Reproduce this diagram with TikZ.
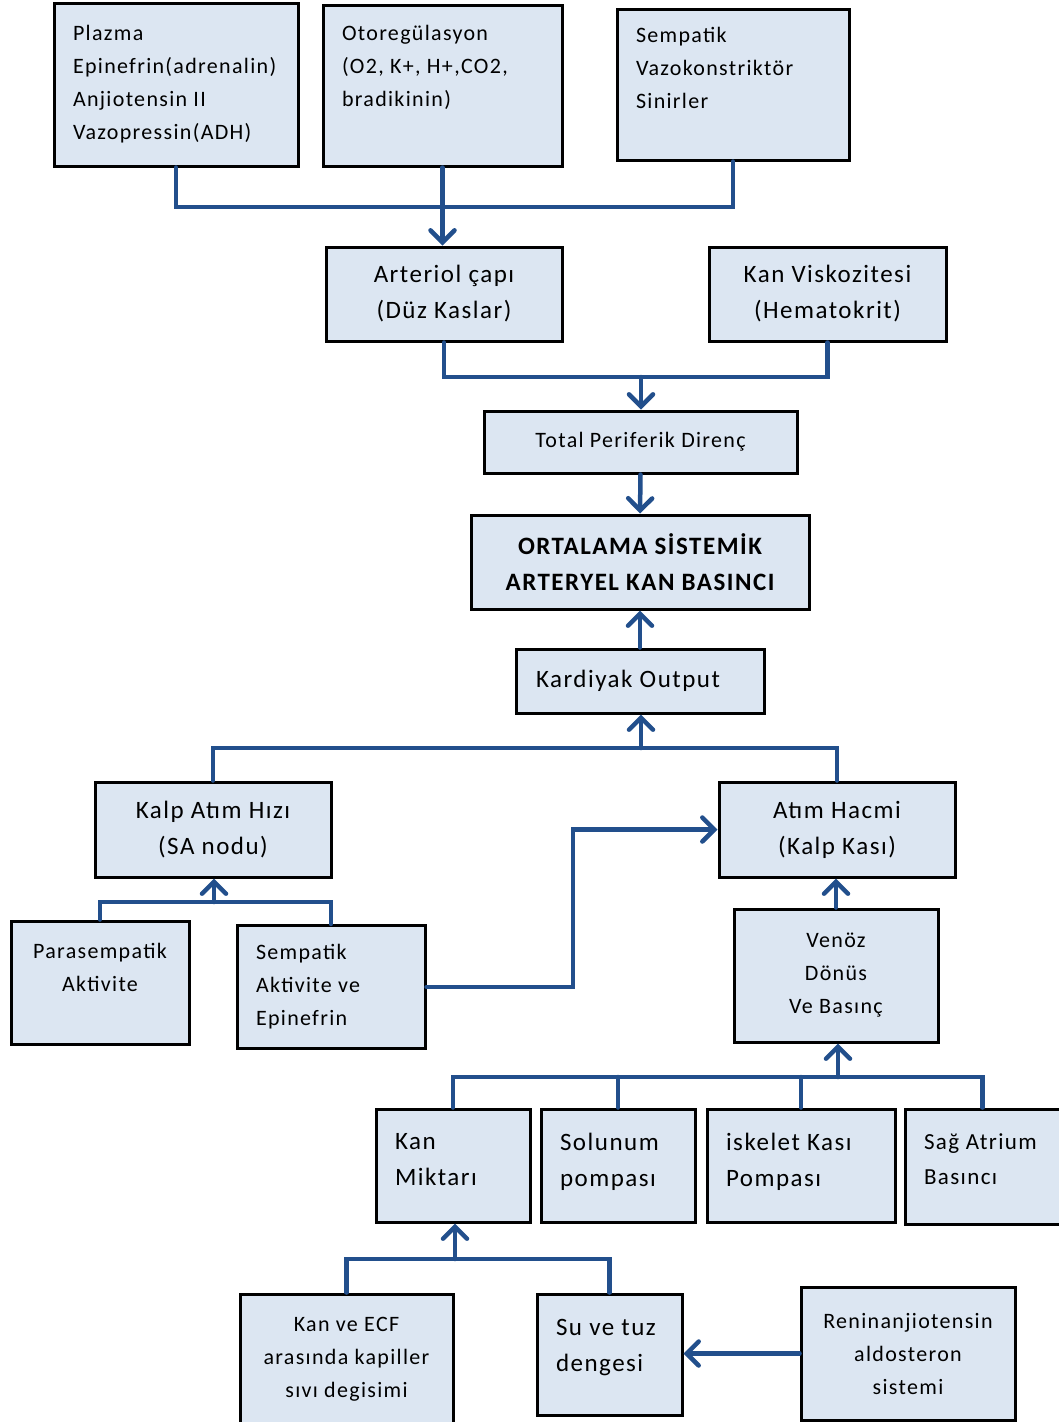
\documentclass[tikz,border=0pt]{standalone}
\usepackage{fontspec}
\setmainfont{Carlito}[LetterSpace=6]
\usetikzlibrary{arrows.meta}
\definecolor{boxblue}{RGB}{220,230,242}
\definecolor{linkblue}{RGB}{34,79,140}
\newcommand{\smalltxt}{\fontsize{22}{33}\selectfont}
\newcommand{\bigtxt}{\fontsize{25}{36}\selectfont}

\begin{document}
\begin{tikzpicture}[x=1pt, y=-1pt]
	\tikzstyle{BOX} = [draw=black, line width=3pt, fill=boxblue, inner sep=0pt]
	\tikzstyle{LEFT} = [BOX, align=flush left, inner xsep=19pt]
	\tikzstyle{MID} = [BOX, align=center]
	\tikzstyle{LINK} = [draw=linkblue, line width=4.5pt, line cap=round]
	\tikzstyle{ARROW} = [LINK, -{Straight Barb[length=12pt, width=24pt, line cap=round]}]
	\useasboundingbox (0,0) rectangle (1059,1422);

	% top row
	\node[LEFT, text width=206pt, minimum height=163pt, font=\smalltxt] (PLZ) at (176,84.5) {Plazma\\ Epinefrin(adrenalin)\\ Anjiotensin II\\ Vazopressin(ADH)};
	\node[LEFT, text width=201pt, minimum height=161pt, font=\smalltxt] (OTO) at (442.5,85.5) {Otoregülasyon\\ (O2, K+, H+,CO2,\\ bradikinin)\\[6pt] ~};
	\node[LEFT, text width=194pt, minimum height=151pt, font=\smalltxt] (SVK) at (733,84.5) {Sempatik\\ Vazokonstriktör\\ Sinirler\\ ~};

	\node[MID, minimum width=236pt, minimum height=94pt, font=\bigtxt] (ART) at (444,294) {Arteriol çapı\\ (Düz Kaslar)};
	\node[MID, minimum width=237pt, minimum height=94pt, font=\bigtxt] (VIS) at (827.5,294) {Kan Viskozitesi\\ (Hematokrit)};
	\node[MID, minimum width=313pt, minimum height=62pt, font=\smalltxt] (TPR) at (640.5,442) {Total Periferik Direnç};
	\node[MID, minimum width=338pt, minimum height=94pt, font=\bigtxt\bfseries] (MAP) at (640,562) {ORTALAMA SİSTEMİK\\ ARTERYEL KAN BASINCI};
	\node[LEFT, inner xsep=20pt, text width=208pt, minimum height=64pt, font=\bigtxt] (KO) at (640,681) {Kardiyak Output};

	% heart
	\node[MID, minimum width=236pt, minimum height=95pt, font=\bigtxt] (HR) at (213,829.5) {Kalp Atım Hızı\\ (SA nodu)};
	\node[MID, minimum width=236pt, minimum height=95pt, font=\bigtxt] (SV) at (837,829.5) {Atım Hacmi\\ (Kalp Kası)};
	\node[MID, minimum width=178pt, minimum height=123pt, font=\smalltxt] (PSA) at (100,982.5) {Parasempatik\\ Aktivite\\[-3pt]};
	\node[LEFT, text width=150pt, minimum height=123pt, font=\smalltxt] (SYA) at (331,987) {Sempatik\\ Aktivite ve\\ Epinefrin};
	\node[MID, minimum width=204pt, minimum height=133pt, font=\smalltxt] (VEN) at (836,975.5) {Venöz\\ Dönüs\\ Ve Basınç};

	% venous return
	\node[LEFT, text width=116pt, minimum height=113pt, font=\bigtxt] (KM) at (453,1165.5) {Kan\\ Miktarı\\[-24pt] ~};
	\node[LEFT, text width=116pt, minimum height=113pt, font=\bigtxt] (SOL) at (618,1165.5) {Solunum\\ pompası\\[-24pt] ~};
	\node[LEFT, text width=150pt, minimum height=113pt, font=\bigtxt] (ISK) at (801,1165.5) {iskelet Kası\\ Pompası\\[-24pt] ~};
	\node[LEFT, text width=117pt, minimum height=115pt, font=\fontsize{23}{35}\selectfont] (SAG) at (982.5,1166.5) {Sağ Atrium\\ Basıncı\\[-21pt] ~};

	\node[MID, minimum width=213pt, minimum height=130pt, font=\smalltxt] (ECF) at (346.5,1359) {Kan ve ECF\\ arasında kapiller\\ sıvı degisimi};
	\node[LEFT, text width=107pt, minimum height=121pt, font=\bigtxt] (SU) at (609.5,1354.5) {Su ve tuz\\ dengesi\\[-18pt] ~};
	\node[MID, minimum width=214pt, minimum height=133pt, font=\smalltxt] (REN) at (908,1353.5) {Reninanjiotensin\\ aldosteron\\ sistemi};

	% junctions
	\coordinate (J1) at (442.5,207);
	\coordinate (J2) at (641,377);
	\coordinate (J3) at (641,748);
	\coordinate (J4) at (214,902);
	\coordinate (J5) at (573,900);
	\coordinate (J6) at (838,1077);
	\coordinate (J7) at (455,1259);

	\draw[LINK] (PLZ.south) |- (J1) -| (SVK.south);
	\draw[ARROW] (OTO.south) -- (OTO.south |- ART.north);
	\draw[LINK] (ART.south) |- (J2) -| (VIS.south);
	\draw[ARROW] (J2) -- (J2 |- TPR.north);
	\draw[ARROW] (TPR.south) -- (MAP.north);
	\draw[ARROW] (KO.north) -- (MAP.south);
	\draw[LINK] (HR.north) |- (J3) -| (SV.north);
	\draw[ARROW] (J3) -- (J3 |- KO.south);
	\draw[LINK] (PSA.north) |- (J4) -| (SYA.north);
	\draw[ARROW] (J4) -- (J4 |- HR.south);
	\draw[ARROW] (SYA.east) -| (J5) |- (SV.west);
	\draw[ARROW] (VEN.north) -- (VEN.north |- SV.south);
	\draw[LINK] (KM.north) |- (J6) -| (SAG.north);
	\draw[LINK] (SOL.north) -- (SOL.north |- J6);
	\draw[LINK] (ISK.north) -- (ISK.north |- J6);
	\draw[ARROW] (J6) -- (J6 |- VEN.south);
	\draw[LINK] (ECF.north) |- (J7) -| (SU.north);
	\draw[ARROW] (J7) -- (J7 |- KM.south);
	\draw[ARROW] (REN.west) -- (REN.west -| SU.east);
\end{tikzpicture}
\end{document}
